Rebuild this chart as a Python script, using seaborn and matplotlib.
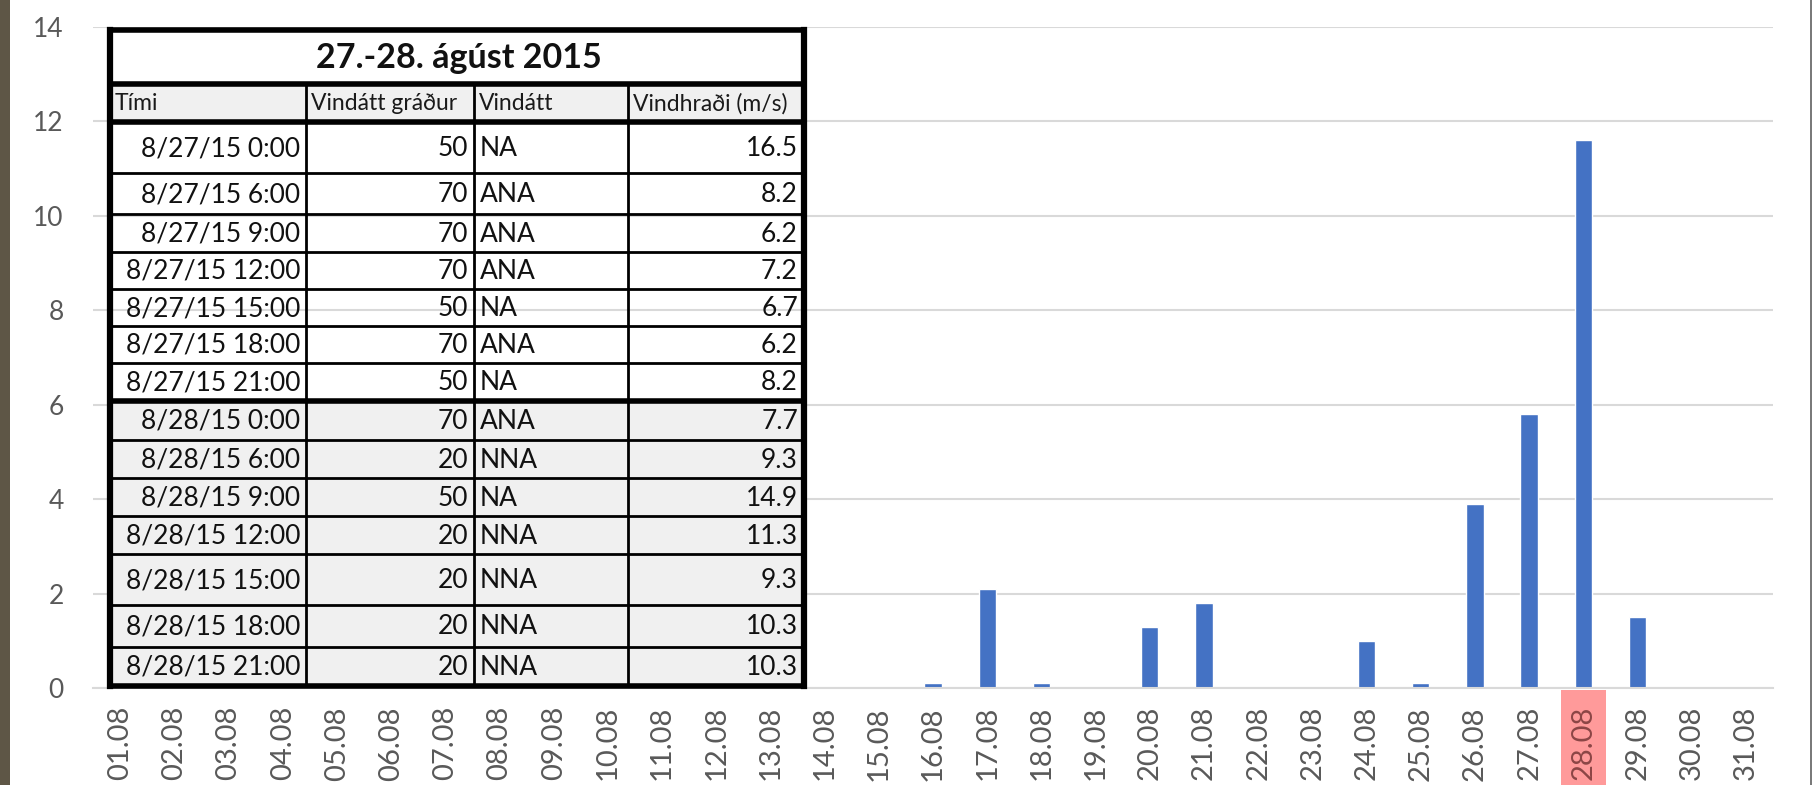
import numpy as np
import pandas as pd
import matplotlib
matplotlib.use("Agg")
import matplotlib.pyplot as plt
import matplotlib.transforms as mtransforms
from matplotlib.patches import Rectangle
import seaborn as sns

# daily values, August 2015
days = ["01.08", "02.08", "03.08", "04.08", "05.08", "06.08", "07.08", "08.08",
        "09.08", "10.08", "11.08", "12.08", "13.08", "14.08", "15.08", "16.08",
        "17.08", "18.08", "19.08", "20.08", "21.08", "22.08", "23.08", "24.08",
        "25.08", "26.08", "27.08", "28.08", "29.08", "30.08", "31.08"]
values = [0, 0, 0, 0, 0, 0, 0, 0, 0, 0, 0, 0, 0, 0, 0, 0.1,
          2.1, 0.1, 0, 1.3, 1.8, 0, 0, 1.0, 0.1, 3.9, 5.8, 11.6, 1.5, 0, 0]
y_ticks = [0, 2, 4, 6, 8, 10, 12, 14]
highlight_day = "28.08"

# wind table
table_title = "27.-28. ágúst 2015"
headers = ["Tími", "Vindátt gráður", "Vindátt", "Vindhraði (m/s)"]
times = ["8/27/15 0:00", "8/27/15 6:00", "8/27/15 9:00", "8/27/15 12:00",
         "8/27/15 15:00", "8/27/15 18:00", "8/27/15 21:00",
         "8/28/15 0:00", "8/28/15 6:00", "8/28/15 9:00", "8/28/15 12:00",
         "8/28/15 15:00", "8/28/15 18:00", "8/28/15 21:00"]
degrees = [50, 70, 70, 70, 50, 70, 50, 70, 20, 50, 20, 20, 20, 20]
directions = ["NA", "ANA", "ANA", "ANA", "NA", "ANA", "NA",
              "ANA", "NNA", "NA", "NNA", "NNA", "NNA", "NNA"]
speeds = ["16.5", "8.2", "6.2", "7.2", "6.7", "6.2", "8.2",
          "7.7", "9.3", "14.9", "11.3", "9.3", "10.3", "10.3"]

sns.set_style("white")
plt.rcParams["font.family"] = ["Lato", "DejaVu Sans"]

W, H = 1814, 785
fig = plt.figure(figsize=(W / 100, H / 100), dpi=100)
ax = fig.add_axes([93 / W, (H - 688) / H, (1773 - 93) / W, (688 - 27) / H])

df = pd.DataFrame({"dagur": days, "vindur": values})
sns.barplot(data=df, x="dagur", y="vindur", order=days, color="#4472C4",
            saturation=1, width=0.32, ax=ax)

ax.set_xlim(-0.5, len(days) - 0.5)
ax.set_ylim(0, 14)
ax.set_yticks(y_ticks)
ax.set_xticks(np.arange(-0.5, len(days), 1), minor=True)
ax.set_xlabel("")
ax.set_ylabel("")
ax.set_axisbelow(True)
ax.yaxis.grid(True, color="#d9d9d9", lw=1.5)
for s in ["left", "right", "top"]:
    ax.spines[s].set_visible(False)
ax.spines["bottom"].set_color("#d9d9d9")
ax.spines["bottom"].set_linewidth(1.5)

ax.tick_params(axis="y", length=0, pad=21, labelsize=19, labelcolor="#595959")
ax.tick_params(axis="x", which="major", length=0, pad=13, labelsize=21,
               labelcolor="#595959", rotation=90)
ax.tick_params(axis="x", which="minor", length=6.5, width=1.2, color="#d9d9d9")

hi = days.index(highlight_day)
ax.get_xticklabels()[hi].set_color("#8c4646")
trans = mtransforms.blended_transform_factory(ax.transData, fig.transFigure)
fig.add_artist(Rectangle((hi - 0.415, 0), 0.83, (H - 690) / H, transform=trans,
                         facecolor="#ff9a9a", edgecolor="none", zorder=-1))

# photo border strips
fig.add_artist(Rectangle((0, 0), 10 / W, 1, transform=fig.transFigure,
                         facecolor="#5e5646", edgecolor="none"))
fig.add_artist(Rectangle((1810 / W, 0), 2 / W, 1, transform=fig.transFigure,
                         facecolor="#7a7a7a", edgecolor="none"))

# table overlay in pixel coordinates
tax = fig.add_axes([0, 0, 1, 1], zorder=5)
tax.set_xlim(0, W)
tax.set_ylim(H, 0)
tax.axis("off")

cols = [110, 306, 474, 628, 804]
rows = [30, 84, 122, 173, 214, 252, 289, 326, 363, 401, 440, 478, 516, 554, 605, 647, 686]
thin, thick = 2.0, 4.0

tax.add_patch(Rectangle((cols[0], rows[1]), cols[-1] - cols[0], rows[2] - rows[1],
                        facecolor="#f0f0f0", edgecolor="none"))
for i in range(7, len(times)):
    tax.add_patch(Rectangle((cols[0], rows[i + 2]), cols[-1] - cols[0],
                            rows[i + 3] - rows[i + 2], facecolor="#f0f0f0",
                            edgecolor="none"))

for j, y in enumerate(rows):
    lw = thick if j in (0, 1, 2, 9, len(rows) - 1) else thin
    tax.plot([cols[0], cols[-1]], [y, y], color="black", lw=lw, solid_capstyle="projecting")
for k, x in enumerate(cols):
    if k in (0, len(cols) - 1):
        tax.plot([x, x], [rows[0], rows[-1]], color="black", lw=thick + 0.5,
                 solid_capstyle="projecting")
    else:
        tax.plot([x, x], [rows[1], rows[-1]], color="black", lw=thin)

tax.text(459, (rows[0] + rows[1]) / 2 + 1, table_title, ha="center", va="center",
         fontsize=24.5, fontweight="bold", color="#111111")
hy = (rows[1] + rows[2]) / 2 + 1
for k, h in enumerate(headers):
    tax.text(cols[k] + 5, hy, h, ha="left", va="center", fontsize=16.5,
             color="#1a1a1a")

for i in range(len(times)):
    y = (rows[i + 2] + rows[i + 3]) / 2 + 1
    tax.text(cols[1] - 6, y, times[i], ha="right", va="center", fontsize=19, color="#111111")
    tax.text(cols[2] - 6, y, str(degrees[i]), ha="right", va="center", fontsize=19, color="#111111")
    tax.text(cols[2] + 6, y, directions[i], ha="left", va="center", fontsize=19, color="#111111")
    tax.text(cols[4] - 6, y, speeds[i], ha="right", va="center", fontsize=19, color="#111111")

fig.savefig("out.png", dpi=100)
